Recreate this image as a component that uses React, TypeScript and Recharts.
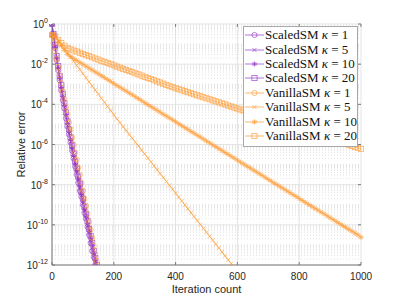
import React from 'react';
import { LineChart, Line, XAxis, YAxis, CartesianGrid, ReferenceLine } from 'recharts';

// log10(relative error), ScaledSM sampled every 5 iterations
const scaledK1 = [0, -0.6, -1.2, -1.8, -2.3, -2.8, -3.3, -3.8, -4.2, -4.7, -5.1, -5.5, -5.9, -6.3, -6.7, -7.1, -7.5, -7.9, -8.3, -8.6, -9.0, -9.4, -9.7, -10.1, -10.5, -10.9, -11.3, -11.6, -12.0];
const scaledK5 = [0, -0.55, -1.15, -1.75, -2.25, -2.75, -3.25, -3.7, -4.15, -4.6, -5.05, -5.45, -5.85, -6.25, -6.65, -7.05, -7.4, -7.8, -8.2, -8.55, -8.95, -9.3, -9.7, -10.05, -10.4, -10.8, -11.15, -11.55, -11.9, -12.3];
const scaledK10 = [0, -0.5, -1.1, -1.65, -2.15, -2.65, -3.15, -3.6, -4.05, -4.5, -4.95, -5.35, -5.75, -6.15, -6.55, -6.95, -7.3, -7.7, -8.05, -8.45, -8.8, -9.2, -9.55, -9.95, -10.3, -10.65, -11.05, -11.4, -11.8, -12.15];
const scaledK20 = [0, -0.5, -1.05, -1.6, -2.1, -2.6, -3.05, -3.5, -3.95, -4.4, -4.85, -5.25, -5.65, -6.05, -6.45, -6.85, -7.2, -7.6, -7.95, -8.35, -8.7, -9.1, -9.45, -9.8, -10.2, -10.55, -10.9, -11.3, -11.65, -12.0];

// VanillaSM kappa=1, every 5 iterations
const vanillaK1 = [-0.55, -0.95, -1.35, -1.75, -2.15, -2.55, -2.95, -3.35, -3.75, -4.15, -4.5, -4.9, -5.25, -5.65, -6.0, -6.4, -6.75, -7.15, -7.5, -7.9, -8.3, -8.7, -9.05, -9.45, -9.85, -10.25, -10.65, -11.05, -11.45, -11.8, -12.2];

// VanillaSM kappa=5, 10, 20, every 10 iterations
const vanillaK5 = [-0.55, -0.62, -0.83, -1.03, -1.24, -1.44, -1.65, -1.85, -2.06, -2.26, -2.47, -2.67, -2.88, -3.08, -3.29, -3.49, -3.7, -3.9, -4.11, -4.31, -4.52,
  -4.72, -4.91, -5.11, -5.3, -5.5, -5.69, -5.89, -6.08, -6.28, -6.47, -6.67, -6.86, -7.06, -7.25, -7.45, -7.64, -7.84, -8.03, -8.23, -8.42,
  -8.62, -8.81, -9.01, -9.2, -9.4, -9.59, -9.79, -9.98, -10.18, -10.37, -10.57, -10.76, -10.96, -11.15, -11.35, -11.54, -11.74, -11.93, -12.13];
const vanillaK10 = [-0.55, -0.62, -0.85, -1.08, -1.3, -1.5, -1.62, -1.72, -1.81, -1.91, -2.0, -2.1, -2.2, -2.29, -2.39, -2.48, -2.58, -2.67, -2.77, -2.86, -2.96,
  -3.06, -3.15, -3.25, -3.34, -3.44, -3.53, -3.63, -3.72, -3.82, -3.92, -4.01, -4.11, -4.2, -4.3, -4.39, -4.49, -4.58, -4.68, -4.77, -4.87,
  -4.97, -5.06, -5.16, -5.25, -5.35, -5.44, -5.54, -5.63, -5.73, -5.83, -5.92, -6.02, -6.11, -6.21, -6.3, -6.4, -6.49, -6.59, -6.68, -6.78,
  -6.88, -6.97, -7.07, -7.16, -7.26, -7.35, -7.45, -7.54, -7.64, -7.74, -7.83, -7.93, -8.02, -8.12, -8.21, -8.31, -8.4, -8.5, -8.59, -8.69,
  -8.79, -8.88, -8.98, -9.07, -9.17, -9.26, -9.36, -9.45, -9.55, -9.65, -9.74, -9.84, -9.93, -10.03, -10.12, -10.22, -10.31, -10.41, -10.5, -10.62];
const vanillaK20 = [-0.55, -0.62, -0.8, -0.95, -1.08, -1.19, -1.26, -1.32, -1.37, -1.43, -1.49, -1.55, -1.6, -1.66, -1.72, -1.77, -1.83, -1.89, -1.94, -2.0, -2.06,
  -2.12, -2.17, -2.23, -2.29, -2.34, -2.4, -2.46, -2.51, -2.57, -2.63, -2.69, -2.74, -2.8, -2.86, -2.91, -2.97, -3.03, -3.08, -3.14, -3.2,
  -3.25, -3.3, -3.35, -3.4, -3.45, -3.5, -3.55, -3.6, -3.65, -3.7, -3.75, -3.8, -3.85, -3.9, -3.95, -4.0, -4.06, -4.11, -4.16, -4.21,
  -4.26, -4.31, -4.36, -4.41, -4.46, -4.51, -4.56, -4.61, -4.66, -4.71, -4.76, -4.81, -4.86, -4.91, -4.96, -5.01, -5.06, -5.11, -5.17, -5.22,
  -5.27, -5.32, -5.37, -5.42, -5.47, -5.52, -5.57, -5.62, -5.67, -5.72, -5.77, -5.82, -5.87, -5.92, -5.97, -6.02, -6.07, -6.12, -6.17, -6.22];

const xTicks = [0, 200, 400, 600, 800, 1000];
const yTicks = [1e-12, 1e-10, 1e-8, 1e-6, 1e-4, 1e-2, 1];

const PURPLE = '#9438c8';
const ORANGE = '#ff9a30';
const AXIS = '#7a7a7a';
const FONT = 'Liberation Sans, Arial, sans-serif';

const toRows = (vals: number[], step: number) => vals.map((e, i) => ({ it: i * step, v: Math.pow(10, e) }));

const series = [
  { name: 'ScaledSM', k: '1', data: toRows(scaledK1, 5), color: PURPLE, marker: 'o' },
  { name: 'ScaledSM', k: '5', data: toRows(scaledK5, 5), color: PURPLE, marker: 'x' },
  { name: 'ScaledSM', k: '10', data: toRows(scaledK10, 5), color: PURPLE, marker: '*' },
  { name: 'ScaledSM', k: '20', data: toRows(scaledK20, 5), color: PURPLE, marker: 's' },
  { name: 'VanillaSM', k: '1', data: toRows(vanillaK1, 5), color: ORANGE, marker: 'o' },
  { name: 'VanillaSM', k: '5', data: toRows(vanillaK5, 10), color: ORANGE, marker: 'x' },
  { name: 'VanillaSM', k: '10', data: toRows(vanillaK10, 10), color: ORANGE, marker: '*' },
  { name: 'VanillaSM', k: '20', data: toRows(vanillaK20, 10), color: ORANGE, marker: 's' },
];

// minor log grid values (2..9 x each decade, plus odd decades)
const minorY: number[] = [];
for (let d = -12; d < 0; d++) {
  for (let m = 1; m <= 9; m++) {
    if (m === 1 && d % 2 === 0) continue;
    minorY.push(m * Math.pow(10, d));
  }
}

const Marker = ({ shape, cx, cy, color }: any) => {
  const r = 2.6;
  if (shape === 'o') return <circle cx={cx} cy={cy} r={r} fill="none" stroke={color} strokeWidth={0.8} />;
  if (shape === 's') return <rect x={cx - r} y={cy - r} width={2 * r} height={2 * r} fill="none" stroke={color} strokeWidth={0.8} />;
  if (shape === 'x')
    return (
      <path d={`M${cx - 2} ${cy - 2}L${cx + 2} ${cy + 2}M${cx - 2} ${cy + 2}L${cx + 2} ${cy - 2}`} stroke={color} strokeWidth={0.8} />
    );
  return (
    <path
      d={`M${cx - 2.6} ${cy}L${cx + 2.6} ${cy}M${cx} ${cy - 2.6}L${cx} ${cy + 2.6}M${cx - 1.9} ${cy - 1.9}L${cx + 1.9} ${cy + 1.9}M${cx - 1.9} ${cy + 1.9}L${cx + 1.9} ${cy - 1.9}`}
      stroke={color}
      strokeWidth={0.9}
    />
  );
};

const YTick = ({ x, y, payload }: any) => {
  const e = Math.round(Math.log10(payload.value));
  return (
    <g>
      <line x1={x} y1={y} x2={x + 3} y2={y} stroke={AXIS} />
      <line x1={x + 306} y1={y} x2={x + 309} y2={y} stroke={AXIS} />
      <text x={x - 4} y={y + 4} textAnchor="end" fontSize={10} fill="#262626" fontFamily={FONT}>
        10<tspan dy={-5} fontSize={7}>{e}</tspan>
      </text>
    </g>
  );
};

const XTick = ({ x, y, payload }: any) => (
  <g>
    <line x1={x} y1={y} x2={x} y2={y - 3} stroke={AXIS} />
    <line x1={x} y1={y - 241} x2={x} y2={y - 238} stroke={AXIS} />
    <text x={x} y={y + 15} textAnchor="middle" fontSize={10} fill="#262626" fontFamily={FONT}>
      {payload.value}
    </text>
  </g>
);

const LegendBox = () => (
  <div
    style={{
      position: 'absolute',
      left: 243,
      top: 26,
      width: 113,
      height: 117,
      border: '1px solid #a8a8a8',
      background: '#fff',
      padding: '1px 0',
      boxSizing: 'content-box',
    }}
  >
    {series.map((s, i) => (
      <div key={i} style={{ display: 'flex', alignItems: 'center', height: 14.4, whiteSpace: 'nowrap' }}>
        <svg width={20} height={12} style={{ marginLeft: 1, marginRight: 0 }}>
          <line x1={0} y1={6} x2={19} y2={6} stroke={s.color} strokeOpacity={0.7} strokeWidth={1} />
          <g opacity={0.8}>
            <Marker shape={s.marker} cx={9.5} cy={6} color={s.color} />
          </g>
        </svg>
        <span style={{ fontFamily: 'Liberation Serif, Times New Roman, serif', fontSize: 13, color: '#111', lineHeight: '14px' }}>
          {s.name} <i>κ</i> = {s.k}
        </span>
      </div>
    ))}
  </div>
);

export default function App() {
  return (
    <div style={{ position: 'absolute', left: 0, top: 0, width: 399, height: 299, background: '#fff' }}>
      <LineChart width={399} height={299} margin={{ top: 24, right: 38, left: 7, bottom: 0 }}>
        <CartesianGrid stroke="#e4e4e4" horizontal={false} verticalValues={xTicks} />
        {minorY.map((v) => (
          <ReferenceLine key={v} y={v} stroke="#d6d6d6" strokeDasharray="1 2" strokeWidth={0.7} />
        ))}
        {yTicks.map((v) => (
          <ReferenceLine key={'m' + v} y={v} stroke="#e4e4e4" strokeWidth={1} />
        ))}
        <XAxis
          type="number"
          dataKey="it"
          domain={[0, 1000]}
          ticks={xTicks}
          interval={0}
          height={34}
          tickLine={false}
          axisLine={{ stroke: AXIS }}
          tick={<XTick />}
          tickMargin={0}
          tickSize={0}
          label={{ value: 'Iteration count', position: 'insideBottom', offset: 6, fontSize: 11, fill: '#262626', fontFamily: FONT }}
        />
        <XAxis xAxisId="top" orientation="top" type="number" domain={[0, 1000]} height={0} tick={false} tickLine={false} axisLine={{ stroke: AXIS }} />
        <YAxis
          scale="log"
          domain={[1e-12, 1]}
          allowDataOverflow
          ticks={yTicks}
          interval={0}
          width={45}
          tickLine={false}
          tickSize={0}
          tickMargin={0}
          axisLine={{ stroke: AXIS }}
          tick={<YTick />}
          label={{ value: 'Relative error', angle: -90, position: 'insideLeft', offset: 14, fontSize: 11, fill: '#262626', fontFamily: FONT, style: { textAnchor: 'middle' } }}
        />
        <YAxis yAxisId="right" orientation="right" width={0} tick={false} tickLine={false} axisLine={{ stroke: AXIS }} />
        {series.map((s, i) => (
          <Line
            key={i}
            data={s.data}
            dataKey="v"
            type="linear"
            stroke={s.color}
            strokeOpacity={0.7}
            strokeWidth={0.9}
            isAnimationActive={false}
            dot={(p: any) => (
              <g key={p.index} opacity={0.75}>
                <Marker shape={s.marker} cx={p.cx} cy={p.cy} color={s.color} />
              </g>
            )}
            activeDot={false}
            legendType="none"
          />
        ))}
      </LineChart>
      <LegendBox />
    </div>
  );
}
